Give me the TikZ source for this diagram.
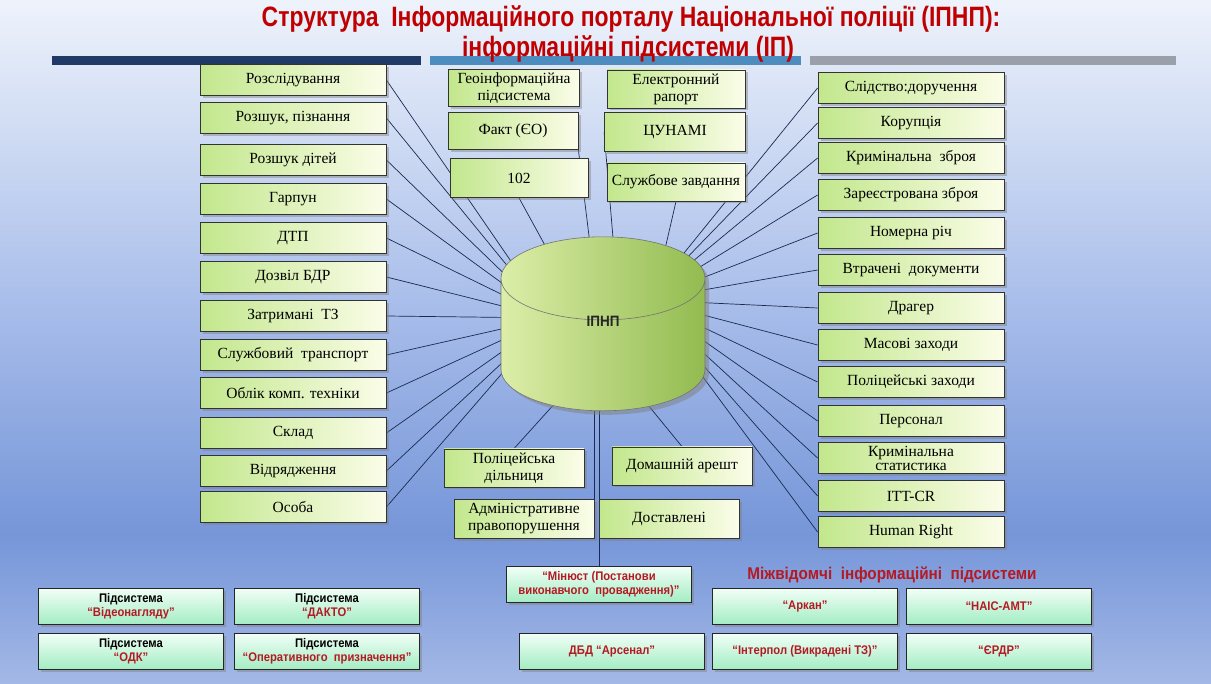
\documentclass[tikz,border=0pt]{standalone}
\usepackage{fontspec}
\setmainfont{Liberation Serif}
\newfontfamily\headfont[FakeStretch=0.82]{Liberation Sans}
\newfontfamily\subfont[FakeStretch=0.9]{Liberation Sans}
\usetikzlibrary{shapes.geometric, shadows}

\definecolor{titlered}{HTML}{C00000}
\definecolor{labred}{HTML}{B41A24}
\definecolor{boxgreen}{HTML}{C2E78C}
\definecolor{boxcream}{HTML}{FBFDE9}
\definecolor{mintlow}{HTML}{A4EDC4}
\definecolor{mintup}{HTML}{F2FFF7}
\definecolor{bgtop}{HTML}{EEF3FB}
\definecolor{bgmid}{HTML}{A9BEEA}
\definecolor{bgdark}{HTML}{7696D9}
\definecolor{bgbot}{HTML}{A3B8E6}
\definecolor{barnavy}{HTML}{1F3A66}
\definecolor{barblue}{HTML}{4D8CBF}
\definecolor{bargray}{HTML}{9AA0A9}
\definecolor{cylleft}{HTML}{DCEEA8}
\definecolor{cylright}{HTML}{92BB50}
\definecolor{linkcol}{HTML}{1A2A50}

\pgfdeclareverticalshading{slidebg}{100bp}{color(0bp)=(bgbot); color(25bp)=(bgbot); color(36bp)=(bgdark); color(53bp)=(bgmid); color(75bp)=(bgtop); color(100bp)=(bgtop)}

\pgfdeclarelayer{bg}
\pgfdeclarelayer{links}
\pgfsetlayers{bg,links,main}

\begin{document}
\begin{tikzpicture}[x=1pt, y=-1pt,
    sub/.style={draw=black!80, line width=0.8pt, left color=boxgreen, right color=boxcream,
        minimum width=186pt, minimum height=31pt, inner sep=1pt, align=center,
        font=\fontsize{15.5}{17}\selectfont,
        drop shadow={shadow xshift=2.5pt, shadow yshift=-2.5pt, opacity=0.45}},
    sysbox/.style={draw=black!85, line width=0.8pt, top color=mintup, bottom color=mintlow,
        minimum width=185pt, minimum height=36pt, inner sep=1pt, align=center,
        font=\subfont\bfseries\fontsize{12.5}{14}\selectfont,
        drop shadow={shadow xshift=2.5pt, shadow yshift=-2.5pt, opacity=0.45}},
    link/.style={draw=linkcol, line width=0.7pt}]
    \useasboundingbox (0,0) rectangle (1211,684);

    % title
    \node[font=\headfont\bfseries\fontsize{28}{30}\selectfont, text=titlered] (title) at (631,19) {Структура \ Інформаційного порталу Національної поліції (ІПНП):};
    \node[font=\headfont\bfseries\fontsize{28}{30}\selectfont, text=titlered] (subtitle) at (628,49) {інформаційні підсистеми (ІП)};

    % core
    \node[cylinder, shape border rotate=90, aspect=2.1, minimum width=204pt, minimum height=174pt,
        draw=black!55, line width=0.6pt, left color=cylleft, right color=cylright,
        font=\subfont\bfseries\fontsize{15}{17}\selectfont, text=black!85,
        drop shadow={shadow xshift=4pt, shadow yshift=-4pt, opacity=0.5}] (ipnp) at (603,350) {\smash{\raisebox{23pt}{ІПНП}}};

    % left column
    \node[sub] (rozsl) at (293,80) {Розслідування};
    \node[sub] (rozpiz) at (293,118) {Розшук, пізнання};
    \node[sub] (rozdit) at (293,160) {Розшук дітей};
    \node[sub] (garpun) at (293,199) {Гарпун};
    \node[sub] (dtp) at (293,238) {ДТП};
    \node[sub] (bdr) at (293,277) {Дозвіл БДР};
    \node[sub] (zatr) at (293,316) {Затримані \ ТЗ};
    \node[sub] (transp) at (293,355) {Службовий \ транспорт};
    \node[sub] (oblik) at (293,393) {Облік комп. техніки};
    \node[sub] (sklad) at (293,433) {Склад};
    \node[sub] (vidr) at (293,471) {Відрядження};
    \node[sub] (osoba) at (293,507) {Особа};

    % top middle
    \node[sub, minimum width=131pt, minimum height=37pt] (geo) at (514,88) {Геоінформаційна\\підсистема};
    \node[sub, minimum width=130pt, minimum height=37pt] (fakt) at (513,131) {Факт (ЄО)};
    \node[sub, minimum width=138pt, minimum height=39pt] (n102) at (519,178) {102};
    \node[sub, minimum width=138pt, minimum height=38pt] (erap) at (676,89) {Електронний\\рапорт};
    \node[sub, minimum width=141pt, minimum height=39pt] (tsunami) at (675,132) {ЦУНАМІ};
    \node[sub, minimum width=138pt, minimum height=38pt] (szavd) at (676,182) {Службове завдання};

    % right column
    \node[sub] (sldor) at (911,88) {Слідство:доручення};
    \node[sub] (korup) at (911,123) {Корупція};
    \node[sub] (krzbr) at (911,158) {Кримінальна \ зброя};
    \node[sub] (zarzbr) at (911,195) {Зареєстрована зброя};
    \node[sub] (nomrich) at (911,233) {Номерна річ};
    \node[sub] (vtrdoc) at (911,270) {Втрачені \ документи};
    \node[sub] (drager) at (911,308) {Драгер};
    \node[sub] (masz) at (911,345) {Масові заходи};
    \node[sub] (polz) at (911,382) {Поліцейські заходи};
    \node[sub] (person) at (911,421) {Персонал};
    \node[sub, font=\fontsize{15.5}{14}\selectfont, inner sep=0pt] (krstat) at (911,458) {Кримінальна\\статистика};
    \node[sub] (ittcr) at (911,496) {ITT-CR};
    \node[sub] (hright) at (911,532) {Human Right};

    % bottom middle
    \node[sub, minimum width=140pt, minimum height=38pt] (dilnyc) at (514,468) {Поліцейська\\дільниця};
    \node[sub, minimum width=140pt, minimum height=39pt] (admin) at (524,519) {Адміністративне\\правопорушення};
    \node[sub, minimum width=140pt, minimum height=38pt] (arest) at (682,466) {Домашній арешт};
    \node[sub, minimum width=140pt, minimum height=39pt] (dostav) at (669,519) {Доставлені};

    % subsystems
    \node[sysbox] (video) at (131,606) {Підсистема\\\textcolor{labred}{“Відеонагляду”}};
    \node[sysbox] (dakto) at (327,606) {Підсистема\\\textcolor{labred}{“ДАКТО”}};
    \node[sysbox] (odk) at (131,651) {Підсистема\\\textcolor{labred}{“ОДК”}};
    \node[sysbox] (operat) at (327,651) {Підсистема\\\textcolor{labred}{“Оперативного \ призначення”}};
    \node[sysbox, text=labred] (minjust) at (599,584) {“Мінюст (Постанови\\виконавчого \ провадження)”};
    \node[sysbox, text=labred] (arsenal) at (612,651) {ДБД “Арсенал”};

    % inter-agency
    \node[font=\subfont\bfseries\fontsize{17}{19}\selectfont, text=labred] (mizhlab) at (892,575) {Міжвідомчі \ інформаційні \ підсистеми};
    \node[sysbox, text=labred] (arkan) at (805,606) {“Аркан”};
    \node[sysbox, text=labred] (nais) at (999,606) {“НАІС-АМТ”};
    \node[sysbox, text=labred] (interpol) at (805,651) {“Інтерпол (Викрадені ТЗ)”};
    \node[sysbox, text=labred] (erdr) at (999,651) {“ЄРДР”};

    \coordinate (hubL) at (550,318);
    \coordinate (hubR) at (646,300);

    \begin{pgfonlayer}{links}
    \draw[link] (rozsl.east) -- (hubL);
    \draw[link] (rozpiz.east) -- (hubL);
    \draw[link] (rozdit.east) -- (hubL);
    \draw[link] (garpun.east) -- (hubL);
    \draw[link] (dtp.east) -- (hubL);
    \draw[link] (bdr.east) -- (hubL);
    \draw[link] (zatr.east) -- (hubL);
    \draw[link] (transp.east) -- (hubL);
    \draw[link] (oblik.east) -- (hubL);
    \draw[link] (sklad.east) -- (hubL);
    \draw[link] (vidr.east) -- (hubL);
    \draw[link] (osoba.east) -- (hubL);

    \draw[link] (fakt.south east) -- (ipnp.97);
    \draw[link] (n102.south) -- (ipnp.119);
    \draw[link] (tsunami.west) -- (ipnp.85);
    \draw[link] (szavd.south) -- (ipnp.59);

    \draw[link] (sldor.west) -- (hubR);
    \draw[link] (korup.west) -- (hubR);
    \draw[link] (krzbr.west) -- (hubR);
    \draw[link] (zarzbr.west) -- (hubR);
    \draw[link] (nomrich.west) -- (hubR);
    \draw[link] (vtrdoc.west) -- (hubR);
    \draw[link] (drager.west) -- (hubR);
    \draw[link] (masz.west) -- (hubR);
    \draw[link] (polz.west) -- (hubR);
    \draw[link] (person.west) -- (hubR);
    \draw[link] (krstat.west) -- (hubR);
    \draw[link] (ittcr.west) -- (hubR);
    \draw[link] (hright.west) -- (hubR);

    \draw[link] (dilnyc.north) -- (ipnp);
    \draw[link] (arest.north) -- (ipnp);
    \draw[link] (admin.north east) -- (admin.north east |- ipnp.south);
    \draw[link] (minjust.north) -- (minjust.north |- ipnp.south);
    \end{pgfonlayer}

    \begin{pgfonlayer}{bg}
    \shade[shading=slidebg] (0,0) rectangle (1211,684);
    \fill[barnavy] (52,56) rectangle (421,65);
    \fill[barblue] (430,56) rectangle (801,65);
    \fill[bargray] (810,56) rectangle (1176,65);
    \end{pgfonlayer}
\end{tikzpicture}
\end{document}
